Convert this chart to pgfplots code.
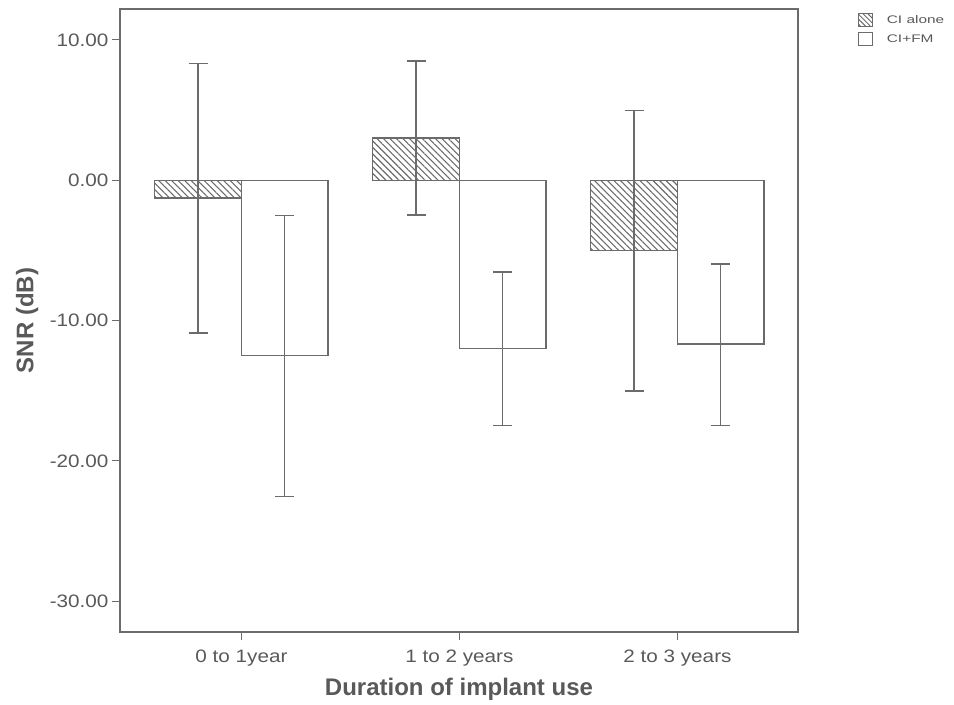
\documentclass[border=0pt]{standalone}
\usepackage{pgfplots}
\pgfplotsset{compat=1.18}
\usetikzlibrary{patterns.meta}
\usepackage{fontspec}
\setmainfont{Liberation Sans}
\newfontfamily\tickfont{Liberation Sans}[FakeStretch=1.15]
\newfontfamily\legfont{Liberation Sans}[FakeStretch=1.4]
\definecolor{ln}{gray}{0.42}
\definecolor{tx}{gray}{0.35}

\begin{document}
\begin{tikzpicture}
\begin{axis}[
  scale only axis, width=678bp, height=623bp,
  xmin=-0.557, xmax=2.553, ymin=-32.2, ymax=12.2,
  ybar=0pt, bar width=0.397,
  xtick={0,1,2}, xticklabels={0 to 1year, 1 to 2 years, 2 to 3 years},
  ytick={-30,-20,-10,0,10}, yticklabels={-30.00,-20.00,-10.00,0.00,10.00},
  tick align=outside, xtick pos=bottom, ytick pos=left, major tick length=8bp,
  axis line style={ln, line width=1.2bp}, tick style={ln, line width=1.2bp},
  ticklabel style={font=\tickfont\fontsize{18bp}{20bp}\selectfont, text=tx},
  xticklabel style={yshift=-6bp},
  xlabel={Duration of implant use}, ylabel={SNR (dB)},
  label style={font=\bfseries\fontsize{24bp}{26bp}\selectfont, text=tx},
  xlabel style={at={(axis description cs:0.5,-0.0915)}, anchor=center},
  ylabel style={at={(axis description cs:-0.137,0.5)}, anchor=center},
  legend style={at={(1.088,0.994)}, anchor=north west, draw=none, fill=none,
    font=\legfont\fontsize{11bp}{13bp}\selectfont, text=tx, row sep=5bp,
    inner sep=0pt},
  legend cell align=left,
  clip=false,
]
\addplot[draw=ln, line width=1.2bp,
  pattern={Lines[angle=-45,distance=4.6bp,line width=1.1bp]}, pattern color=ln,
  legend image code/.code={\draw[draw=ln, line width=1bp, pattern={Lines[angle=-45,distance=3.5bp,line width=1bp]}, pattern color=ln] (0bp,-6.5bp) rectangle (14bp,6.5bp);},
  error bars/.cd, y dir=both, y explicit,
  error bar style={draw=ln, line width=1.5bp},
  error mark options={rotate=90, mark size=9.5bp, draw=ln, line width=1.5bp}]
coordinates {
  (0,-1.27) += (0,9.57) -= (0,9.62)
  (1,3.01) += (0,5.49) -= (0,5.49)
  (2,-5.04) += (0,10.02) -= (0,9.98)
};
\addlegendentry{\hspace{12bp}CI alone}
\addplot[draw=ln, line width=1.2bp, fill=white,
  legend image code/.code={\draw[draw=ln, line width=1bp, fill=white] (0bp,-6.5bp) rectangle (14bp,6.5bp);},
  error bars/.cd, y dir=both, y explicit,
  error bar style={draw=ln, line width=1.5bp},
  error mark options={rotate=90, mark size=9.5bp, draw=ln, line width=1.5bp}]
coordinates {
  (0,-12.52) += (0,10.02) -= (0,10.04)
  (1,-12.01) += (0,5.48) -= (0,5.49)
  (2,-11.67) += (0,5.71) -= (0,5.80)
};
\addlegendentry{\hspace{12bp}CI+FM}
\end{axis}
\path[use as bounding box] ([xshift=-120bp,yshift=-73bp]current axis.south west) rectangle ([xshift=156bp,yshift=9bp]current axis.north east);
\end{tikzpicture}
\end{document}
